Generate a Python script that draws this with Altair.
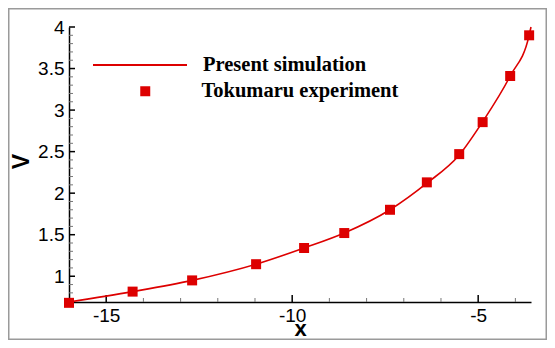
import altair as alt
import pandas as pd

# Tokumaru experiment (square markers)
exp_x = [-16.0, -14.29, -12.69, -10.97, -9.68, -8.60, -7.37, -6.38, -5.51, -4.88, -4.14, -3.63]
exp_v = [0.68, 0.815, 0.95, 1.145, 1.34, 1.52, 1.80, 2.13, 2.47, 2.855, 3.41, 3.90]

# Present simulation (solid line)
sim_x = [-16.0, -14.29, -12.69, -10.97, -9.68, -8.60, -7.37, -6.38, -5.51, -4.88, -4.14, -3.63, -3.58]
sim_v = [0.69, 0.815, 0.95, 1.145, 1.34, 1.52, 1.80, 2.12, 2.46, 2.86, 3.41, 3.90, 4.0]

# axis ticks
x_major = [-15, -10, -5]
x_minor = [-16, -14, -13, -12, -11, -9, -8, -7, -6, -4]
y_major = [1.0, 1.5, 2.0, 2.5, 3.0, 3.5, 4.0]
y_minor = [0.7, 0.8, 0.9, 1.1, 1.2, 1.3, 1.4, 1.6, 1.7, 1.8, 1.9, 2.1, 2.2, 2.3, 2.4,
           2.6, 2.7, 2.8, 2.9, 3.1, 3.2, 3.3, 3.4, 3.6, 3.7, 3.8, 3.9]

x_domain = [-16.0, -3.58]
y_domain = [0.69, 4.0]

RED = "#dd0000"
W, H = 462, 275

sim_df = pd.DataFrame({"x": sim_x, "v": sim_v, "series": ["Present simulation"] * len(sim_x)})
exp_df = pd.DataFrame({"x": exp_x, "v": exp_v, "series2": ["Tokumaru experiment"] * len(exp_x)})

xs = alt.Scale(domain=x_domain, nice=False, zero=False)
ys = alt.Scale(domain=y_domain, nice=False, zero=False)

x_axis = alt.Axis(values=x_major, ticks=False, grid=False, labelFont="Liberation Sans",
                  labelFontSize=19, labelColor="black", labelPadding=4,
                  labelExpr="'' + datum.value", domainColor="black", domainWidth=1.5,
                  title="x", titleFont="Liberation Sans", titleFontWeight="bold",
                  titleFontSize=22, titleColor="black", titleY=33, titleBaseline="alphabetic")
y_axis = alt.Axis(values=y_major, ticks=False, grid=False, labelFont="Liberation Sans",
                  labelFontSize=19, labelColor="black", labelPadding=5,
                  labelExpr="'' + datum.value", domainColor="black", domainWidth=1.5,
                  title="V", titleFont="Liberation Sans", titleFontWeight="bold",
                  titleFontSize=23, titleColor="black", titleAngle=270, titleX=-41, titleY=134,
                  titleAlign="center", titleBaseline="alphabetic")

line = alt.Chart(sim_df).mark_line(strokeWidth=1.6, interpolate="monotone").encode(
    x=alt.X("x:Q", scale=xs, axis=x_axis),
    y=alt.Y("v:Q", scale=ys, axis=y_axis),
    color=alt.Color("series:N", scale=alt.Scale(range=[RED]),
                    legend=alt.Legend(orient="none", legendX=23, legendY=-10, title=None,
                                      symbolType="stroke", symbolSize=8836, symbolStrokeWidth=2,
                                      labelFont="Liberation Serif", labelFontWeight="bold",
                                      labelFontSize=20.5, labelColor="black", labelOffset=15,
                                      labelLimit=400, padding=0)),
)

pts = alt.Chart(exp_df).mark_point(shape="square", filled=True, color=RED, size=100, opacity=1).encode(
    x=alt.X("x:Q", scale=xs, axis=x_axis),
    y=alt.Y("v:Q", scale=ys, axis=y_axis),
    shape=alt.Shape("series2:N", scale=alt.Scale(range=["square"]),
                    legend=alt.Legend(orient="none", legendX=66, legendY=54, title=None,
                                      symbolSize=100, symbolFillColor=RED, symbolStrokeColor=RED,
                                      symbolStrokeWidth=0, symbolOpacity=1,
                                      labelFont="Liberation Serif", labelFontWeight="bold",
                                      labelFontSize=20.5, labelColor="black", labelOffset=46,
                                      labelLimit=400, padding=0)),
)

def tick_layer(vals, chan, length, width, color):
    df = pd.DataFrame({"x": vals, "v": vals})
    if chan == "x":
        return alt.Chart(df).mark_rule(strokeWidth=width, color=color).encode(
            x=alt.X("x:Q", scale=xs, axis=x_axis), y=alt.value(H), y2=alt.value(H - length))
    return alt.Chart(df).mark_rule(strokeWidth=width, color=color).encode(
        y=alt.Y("v:Q", scale=ys, axis=y_axis), x=alt.value(0), x2=alt.value(length))

frame = alt.Chart(pd.DataFrame({"a": [0]})).mark_rect(fill=None, stroke="#9a9a9a", strokeWidth=1.5).encode(
    x=alt.value(-60.25), x2=alt.value(W + 15.25), y=alt.value(-18.25), y2=alt.value(H + 37.25))

chart = alt.layer(
    frame,
    tick_layer(x_minor, "x", 4, 1, "#777"),
    tick_layer(y_minor, "y", 4, 1, "#777"),
    tick_layer(x_major, "x", 7, 1.5, "black"),
    tick_layer(y_major, "y", 6, 1.5, "black"),
    line,
    pts,
).resolve_legend(color="independent", shape="independent").properties(
    width=W, height=H,
    autosize=alt.AutoSizeParams(type="none"),
    padding={"left": 61, "top": 19, "right": 16, "bottom": 38},
    background="white",
).configure_view(stroke=None)

chart.save("out.html", embed_options={"renderer": "svg", "actions": False})
